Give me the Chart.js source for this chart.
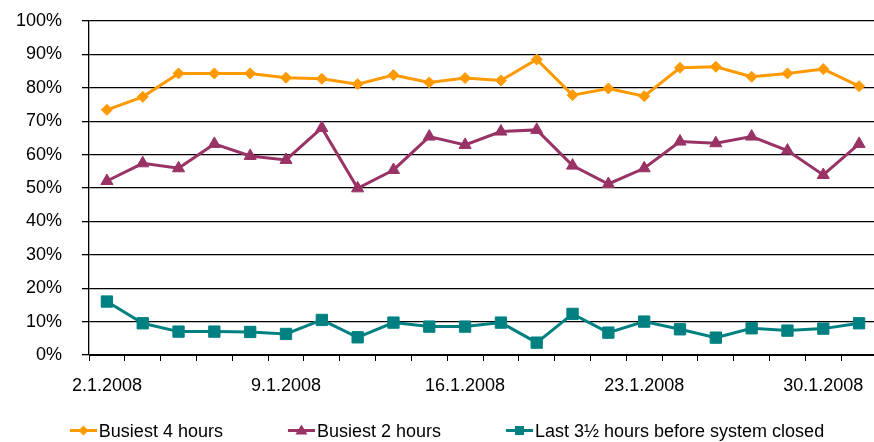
<!DOCTYPE html>
<html><head><meta charset="utf-8">
<script src="https://cdn.jsdelivr.net/npm/chart.js@4/dist/chart.umd.min.js"></script>
<style>html,body{margin:0;padding:0;background:#fff;overflow:hidden;width:874px;height:442px}canvas{display:block}</style>
</head><body>
<canvas id="c" width="886" height="442"></canvas>
<script>
const categories = ['2.1.2008','3.1.2008','4.1.2008','7.1.2008','8.1.2008','9.1.2008','10.1.2008','11.1.2008','14.1.2008','15.1.2008','16.1.2008','17.1.2008','18.1.2008','21.1.2008','22.1.2008','23.1.2008','24.1.2008','25.1.2008','28.1.2008','29.1.2008','30.1.2008','31.1.2008'];
const busiest4 = [73.4,77.3,84.3,84.3,84.3,83.0,82.7,81.1,83.8,81.6,82.9,82.2,88.5,77.8,79.8,77.5,86.0,86.3,83.3,84.3,85.6,80.5];
const busiest2 = [52.1,57.4,55.9,63.2,59.6,58.4,68.0,49.9,55.4,65.4,62.9,66.9,67.4,56.7,51.2,55.9,63.9,63.4,65.4,61.2,53.9,63.2];
const last35 = [16.0,9.5,7.0,7.0,6.9,6.3,10.5,5.3,9.7,8.5,8.5,9.7,3.7,12.3,6.7,10.0,7.7,5.2,8.0,7.3,7.9,9.5];
const seriesNames = ['Busiest 4 hours','Busiest 2 hours','Last 3½ hours before system closed'];
const yTickLabels = ['0%','10%','20%','30%','40%','50%','60%','70%','80%','90%','100%'];
const labelEvery = 5;

const colors = ['#FF9900','#993366','#008080'];
const FONT = "'Liberation Sans', Arial, sans-serif";

function legendIcon(color, shape){
  const c = document.createElement('canvas');
  c.width = 69; c.height = 16;
  const g = c.getContext('2d');
  g.strokeStyle = color; g.fillStyle = color; g.lineWidth = 3;
  g.beginPath(); g.moveTo(42, 6.5); g.lineTo(69, 6.5); g.stroke();
  const cx = 55.5, cy = 6.5;
  g.beginPath();
  if (shape === 'diamond'){ g.moveTo(cx, cy-5); g.lineTo(cx+5, cy); g.lineTo(cx, cy+5); g.lineTo(cx-5, cy); }
  else if (shape === 'triangle'){ g.moveTo(cx, cy-6); g.lineTo(cx+6, cy+4); g.lineTo(cx-6, cy+4); }
  else { g.rect(cx-4.5, cy-4.5, 9, 9); }
  g.closePath(); g.fill();
  return c;
}
const icons = [legendIcon(colors[0],'diamond'), legendIcon(colors[1],'triangle'), legendIcon(colors[2],'square')];

const mk = (label, data, color, style, r) => ({
  label, data, borderColor: color, backgroundColor: color,
  borderWidth: 3, pointStyle: style, pointRadius: r, pointHoverRadius: r,
  pointBackgroundColor: color, pointBorderColor: color, pointBorderWidth: 1,
  tension: 0, fill: false
});

new Chart(document.getElementById('c'), {
  type: 'line',
  data: {
    labels: categories,
    datasets: [
      mk(seriesNames[0], busiest4, colors[0], 'rectRot', 5.5),
      mk(seriesNames[1], busiest2, colors[1], 'triangle', 7),
      mk(seriesNames[2], last35, colors[2], 'rect', 8)
    ]
  },
  options: {
    responsive: false, animation: false, devicePixelRatio: 1,
    layout: { padding: { top: 21, right: 0, left: -27, bottom: -9 } },
    font: { family: FONT },
    plugins: {
      tooltip: { enabled: false },
      legend: {
        position: 'bottom',
        labels: {
          font: { family: FONT, size: 18 }, color: '#000',
          usePointStyle: true, pointStyleWidth: 55, padding: 30,
          generateLabels: (chart) => chart.data.datasets.map((d, i) => ({
            text: d.label, pointStyle: icons[i], fillStyle: d.borderColor,
            strokeStyle: d.borderColor, lineWidth: 0, hidden: false, datasetIndex: i,
            fontColor: '#000'
          }))
        }
      }
    },
    scales: {
      x: {
        offset: true,
        grid: { offset: true, drawOnChartArea: false, drawTicks: true, tickLength: 6, color: '#000', lineWidth: 1 },
        border: { display: true, color: '#000', width: 1 },
        ticks: {
          autoSkip: false, maxRotation: 0, minRotation: 0, padding: 14,
          font: { family: FONT, size: 18 }, color: '#000',
          callback: (v, i) => (i % labelEvery === 0 ? categories[i] : '')
        },
        afterFit: (s) => { s.height = 38; s.paddingLeft = 0; s.paddingRight = 0; }
      },
      y: {
        min: 0, max: 100,
        ticks: {
          stepSize: 10, padding: 20, font: { family: FONT, size: 18 }, color: '#000',
          callback: (v) => yTickLabels[Math.round(v / 10)]
        },
        grid: { color: '#000', lineWidth: 1.3, drawTicks: true, tickLength: 7 },
        border: { display: true, color: '#000', width: 1.3 },
        afterFit: (s) => { s.width = 116; s.paddingTop = 0; s.paddingBottom = 0; }
      }
    }
  }
});
</script>
</body></html>
